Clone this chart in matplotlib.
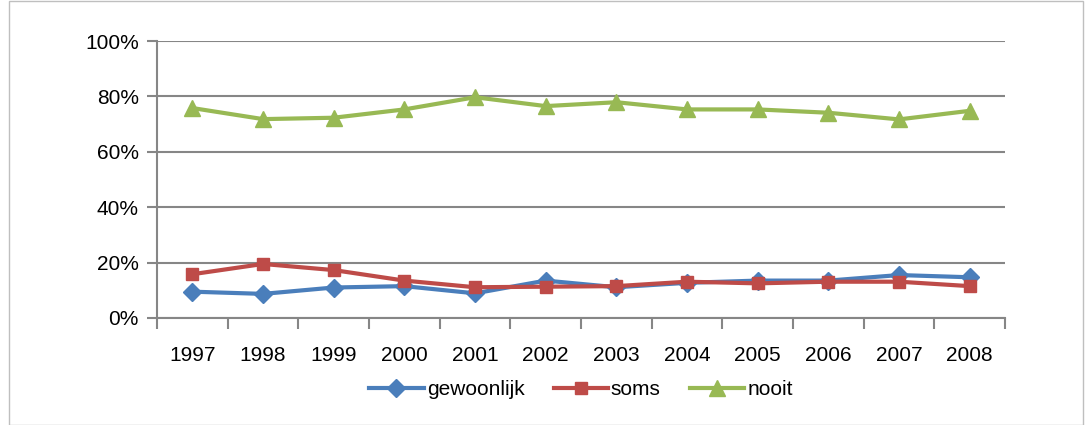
import numpy as np
import matplotlib.pyplot as plt
from matplotlib.patches import Rectangle
from matplotlib.ticker import FuncFormatter

plt.rcParams['font.family'] = ['Liberation Sans Narrow', 'Liberation Sans', 'DejaVu Sans']

years = ['1997', '1998', '1999', '2000', '2001', '2002', '2003', '2004', '2005', '2006', '2007', '2008']
gewoonlijk = [9.5, 8.7, 11.0, 11.5, 8.9, 13.5, 11.1, 12.7, 13.5, 13.5, 15.5, 14.7]
soms = [15.8, 19.5, 17.3, 13.5, 11.1, 11.3, 11.5, 13.1, 12.5, 13.1, 13.1, 11.5]
nooit = [75.8, 71.8, 72.3, 75.3, 79.7, 76.5, 77.9, 75.3, 75.3, 74.1, 71.7, 74.8]

fig = plt.figure(figsize=(10.85, 4.25), dpi=100)
ax = fig.add_axes([0.1447, 0.2518, 0.7816, 0.6517])

x = np.arange(len(years))
ax.plot(x, gewoonlijk, color='#4a7ebb', marker='D', markersize=9, linewidth=3, label='gewoonlijk')
ax.plot(x, soms, color='#be4b48', marker='s', markersize=9, linewidth=3, label='soms')
ax.plot(x, nooit, color='#98b954', marker='^', markersize=11, linewidth=3, label='nooit')

ax.set_xlim(-0.5, len(years) - 0.5)
ax.set_ylim(0, 100)
ax.set_yticks(np.arange(0, 101, 20))
ax.yaxis.set_major_formatter(FuncFormatter(lambda v, p: f'{int(v)}%'))
ax.set_xticks(x)
ax.set_xticklabels(years)
ax.set_xticks(np.arange(-0.5, len(years), 1), minor=True)
ax.tick_params(axis='x', which='major', length=0, pad=20, labelsize=15)
ax.tick_params(axis='x', which='minor', length=8, color='#868686', width=1.5)
ax.tick_params(axis='y', length=7, color='#868686', width=1.5, labelsize=15, pad=6)
ax.grid(axis='y', color='#868686', linewidth=1.5)
ax.set_axisbelow(True)
for side in ['top', 'right']:
    ax.spines[side].set_visible(False)
for side in ['left', 'bottom']:
    ax.spines[side].set_color('#868686')
    ax.spines[side].set_linewidth(1.5)

ax.legend(loc='center', bbox_to_anchor=(0.5, -0.26), ncol=3, frameon=False,
          fontsize=15, handlelength=2.6, columnspacing=1.4, handletextpad=0.15)

fig.patches.append(Rectangle((0.008, 0.0), 0.99, 0.998, transform=fig.transFigure,
                             fill=False, edgecolor='#bfbfbf', linewidth=1))

plt.savefig('out.png', dpi=100)
plt.close()
